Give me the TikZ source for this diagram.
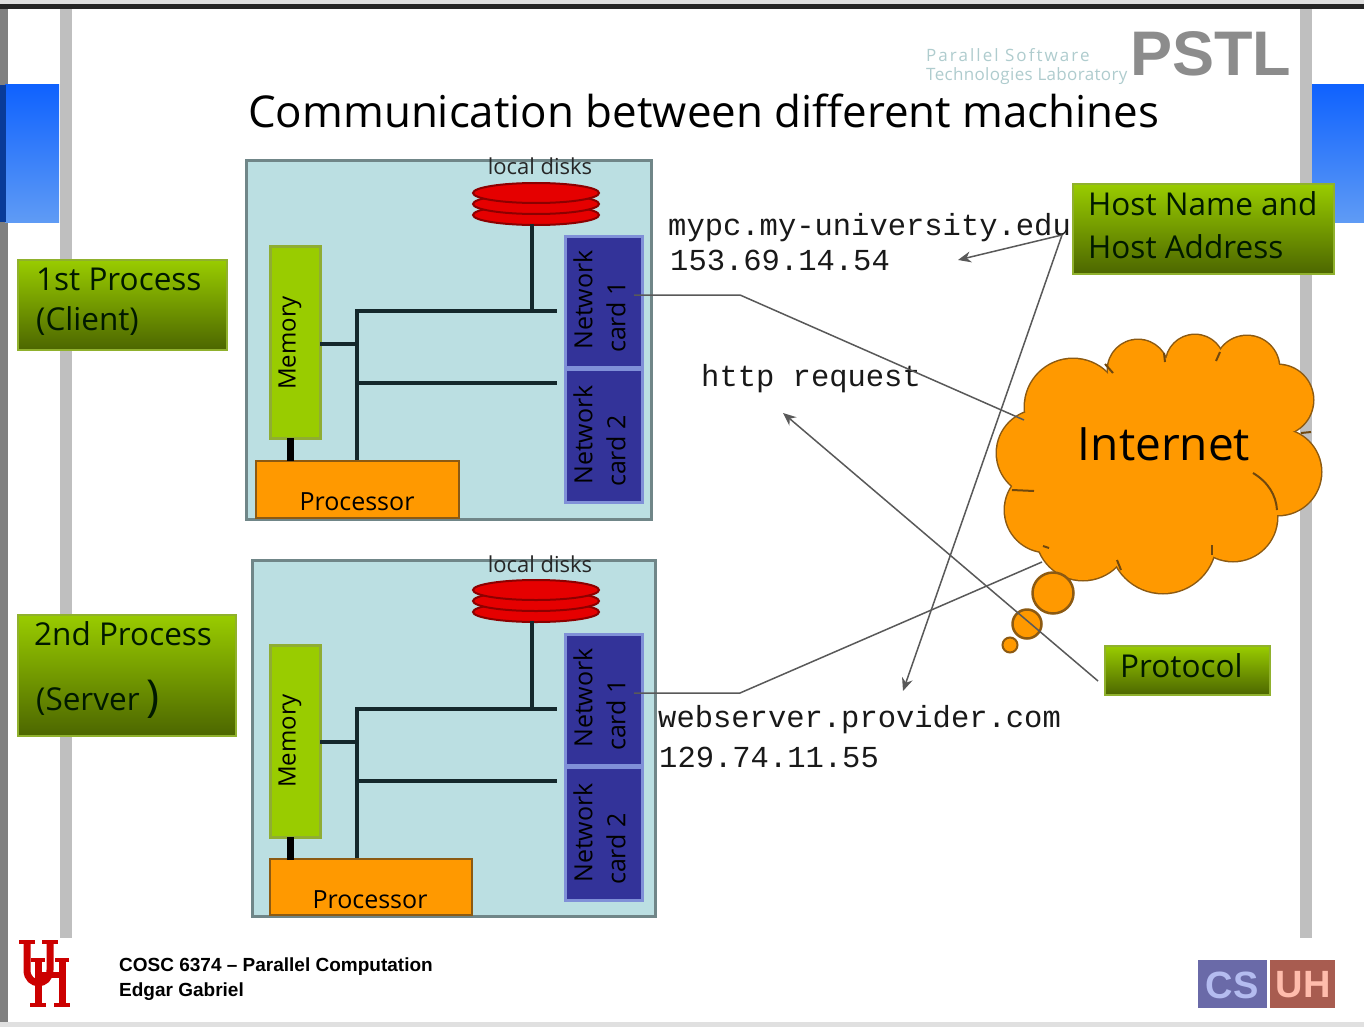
\documentclass[tikz,border=0pt]{standalone}
\usepackage{fontspec}
\setmainfont{Open Sans}
\newfontfamily\monof{Liberation Mono}
\newfontfamily\headf{Liberation Sans}
\definecolor{navy}{HTML}{333399}
\definecolor{navyedge}{HTML}{8090D8}
\definecolor{limeg}{HTML}{99CC00}
\definecolor{darkg}{HTML}{4C6600}
\definecolor{paleb}{HTML}{BBDFE2}
\definecolor{orng}{HTML}{FF9900}
\definecolor{orngedge}{HTML}{8C5A12}
\definecolor{blueA}{HTML}{0F62FE}
\definecolor{blueB}{HTML}{5F9BF5}
\definecolor{busc}{HTML}{14282C}
\definecolor{csbg}{HTML}{6A6AA8}
\definecolor{cstx}{HTML}{B4BCF0}
\definecolor{uhbg}{HTML}{A85C50}
\definecolor{uhtx}{HTML}{FFBCAC}
\usetikzlibrary{arrows.meta}
\tikzset{
 sz/.style={font=\fontsize{#1}{#1}\selectfont},
 gbox/.style={draw=limeg!65!gray,line width=1.5pt,top color=limeg,bottom color=darkg,inner sep=0pt},
 gtext/.style={anchor=west,inner sep=0pt,text=black!90!green,sz=31.5},
 wire/.style={draw=black!65,line width=1.5pt},
 arrowwire/.style={wire,-{Stealth[length=13pt,width=11pt]}},
 bus/.style={draw=busc,line width=4.5pt},
 mono/.style={anchor=west,inner sep=0pt,font=\monof\fontsize{30.5}{30.5}\selectfont,text=black!90},
 machinebox/.style={draw=black!40!paleb,line width=3pt,fill=paleb},
 mem/.style={draw=limeg!60!gray,line width=3pt,fill=limeg,inner sep=0pt},
 proc/.style={draw=orngedge,line width=2.5pt,fill=orng,inner sep=0pt},
 netc/.style={draw=navyedge,line width=3pt,fill=navy,inner sep=0pt},
 platter/.style={draw=red!55!black,line width=2pt,fill=red!90!black},
 smalltxt/.style={inner sep=0pt,sz=25,text=black},
 memtxt/.style={inner sep=0pt,sz=24,text=black},
 proctxt/.style={inner sep=0pt,sz=25,text=black},
 diskl/.style={inner sep=0pt,sz=22,text=black!85},
 tick/.style={draw=orngedge!80!black,line width=2pt},
 puff/.style={draw=orngedge,line width=2.5pt,fill=orng,circle,inner sep=0pt},
 foot/.style={anchor=west,inner sep=0pt,font=\headf\bfseries\fontsize{19}{19}\selectfont},
}
\newcommand{\boxat}[6]{% style, name, x1, y1, x2, y2
  \node[#1,minimum width={#5pt-#3pt},minimum height={#6pt-#4pt},anchor=center] (#2) at ({(#3+#5)/2},{(#4+#6)/2}) {};
}
\begin{document}
\begin{tikzpicture}[x=1pt,y=-1pt]
\useasboundingbox (0,0) rectangle (1364,1027);
\fill[white] (0,0) rectangle (1364,1027);
% slide frame
\fill[black!12] (0,0) rectangle (1364,4);
\fill[black!85] (0,4) rectangle (1364,9);
\fill[black!50] (0,9) rectangle (8,1022);
\fill[black!12] (0,1022) rectangle (1364,1027);
\fill[black!25] (60,9) rectangle (72,938);
\fill[black!25] (1300,9) rectangle (1312,938);
\shade[top color=blueA,bottom color=blueB] (5,85) rectangle (59,222);
\fill[blueA!60!black] (0,85) rectangle (6,222);
\shade[top color=blueA,bottom color=blueB] (1312,85) rectangle (1364,222);
% logo top right
\node[anchor=west,inner sep=0pt,sz=17,text=paleb!80!gray] (pstla) at (926,55) {\addfontfeature{LetterSpace=12}Parallel Software};
\node[anchor=west,inner sep=0pt,sz=17,text=paleb!80!gray] (pstlb) at (926,76) {\addfontfeature{LetterSpace=2}Technologies Laboratory};
\node[anchor=west,inner sep=0pt,font=\headf\bfseries\fontsize{63}{63}\selectfont,text=black!45] (pstl) at (1130,54) {PSTL};
% title
\node[anchor=west,inner sep=0pt,sz=43.9,text=black] (title) at (248,111) {Communication between different machines};
% upper machine
\boxat{machinebox}{ubox}{246}{161}{651}{519}
\boxat{mem}{umem}{270}{246}{320}{438}
\boxat{proc}{uproc}{256}{461}{459}{518}
\boxat{netc}{unetA}{565}{236}{642}{367}
\boxat{netc}{unetB}{565}{369}{642}{502}
\foreach \yy in {215,204,193}{\draw[platter] (536,\yy) ellipse [x radius=63pt,y radius=10pt];}
\coordinate (udisk) at (532,224);
\path (532,311) coordinate (ujA) (357,311) coordinate (ubusT) (357,383) coordinate (ujB) (357,460) coordinate (ubusB) (557,311) coordinate (ubusE1) (557,383) coordinate (ubusE2) (320,344) coordinate (umemE) (357,344) coordinate (ujM);
\draw[bus] (ubusB) -- (ubusT) -- (ubusE1);
\draw[bus] (ujB) -- (ubusE2);
\draw[bus] (umemE) -- (ujM);
\draw[bus] (udisk) -- (ujA);
\draw[bus,line width=7pt,draw=black] (290,438) -- (290,461);
\node[diskl] (udisklab) at (540,166) {local disks};
\node[memtxt,rotate=90] (umemt) at (290,343) {Memory};
\node[smalltxt,rotate=90] (unA1) at (583,300) {Network};
\node[smalltxt,rotate=90] (unA2) at (616,317) {card 1};
\node[smalltxt,rotate=90] (unB1) at (583,435) {Network};
\node[smalltxt,rotate=90] (unB2) at (616,451) {card 2};
\node[proctxt] (uproct) at (357,502) {Processor};
% lower machine
\boxat{machinebox}{lbox}{252}{560}{655}{916}
\boxat{mem}{lmem}{270}{645}{320}{837}
\boxat{proc}{lproc}{270}{859}{472}{915}
\boxat{netc}{lnetA}{565}{634}{642}{765}
\boxat{netc}{lnetB}{565}{767}{642}{900}
\foreach \yy in {612,601,590}{\draw[platter] (536,\yy) ellipse [x radius=63pt,y radius=10pt];}
\coordinate (ldisk) at (532,621);
\path (532,709) coordinate (ljA) (357,709) coordinate (lbusT) (357,781) coordinate (ljB) (357,858) coordinate (lbusB) (557,709) coordinate (lbusE1) (557,781) coordinate (lbusE2) (320,742) coordinate (lmemE) (357,742) coordinate (ljM);
\draw[bus] (lbusB) -- (lbusT) -- (lbusE1);
\draw[bus] (ljB) -- (lbusE2);
\draw[bus] (lmemE) -- (ljM);
\draw[bus] (ldisk) -- (ljA);
\draw[bus,line width=7pt,draw=black] (290,837) -- (290,860);
\node[diskl] (ldisklab) at (540,564) {local disks};
\node[memtxt,rotate=90] (lmemt) at (290,741) {Memory};
\node[smalltxt,rotate=90] (lnA1) at (583,698) {Network};
\node[smalltxt,rotate=90] (lnA2) at (616,715) {card 1};
\node[smalltxt,rotate=90] (lnB1) at (583,833) {Network};
\node[smalltxt,rotate=90] (lnB2) at (616,849) {card 2};
\node[proctxt] (lproct) at (370,900) {Processor};
% green labels
\boxat{gbox}{client}{18}{260}{227}{350}
\node[gtext] (clientA) at (36,279) {1st Process};
\node[gtext] (clientB) at (36,321) {(Client)};
\boxat{gbox}{server}{18}{615}{236}{736}
\node[gtext] (serverA) at (34,634) {2nd Process};
\node[gtext] (serverB) at (36,702) {(Server};
\node[gtext,sz=44] (serverC) at (146,699) {)};
\boxat{gbox}{host}{1073}{184}{1334}{274}
\node[gtext] (hostA) at (1088,204) {Host Name and};
\node[gtext] (hostB) at (1088,247) {Host Address};
\boxat{gbox}{protocol}{1105}{646}{1270}{695}
\node[gtext] (protocolt) at (1120,666) {Protocol};
% cloud
\def\cloudbumps{1073/407/48,1138/370/30,1195/364/29,1247/368/32,1278/400/35,1278/472/43,1233/517/44,1163/540/53,1083/533/47,1047/510/42,1040/453/43}
\foreach \cx/\cy/\cr in \cloudbumps {\draw[orngedge,line width=3pt] (\cx,\cy) circle [radius=\cr pt];}
\foreach \cx/\cy/\cr in \cloudbumps {\fill[orng] (\cx,\cy) circle [radius=\cr pt];}
\fill[orng] (1160,450) circle [radius=92pt];
\fill[orng] (1235,425) circle [radius=45pt];
\draw[tick] (1253,473) .. controls (1268,482) and (1276,495) .. (1277,510);
\draw[tick] (1012,490) -- (1034,491);
\draw[tick] (1105,364) -- (1113,373);
\draw[tick] (1164,353) -- (1165,362);
\draw[tick] (1220,352) -- (1216,361);
\draw[tick] (1301,433) -- (1311,432);
\draw[tick] (1212,545) -- (1212,555);
\draw[tick] (1117,560) -- (1121,570);
\draw[tick] (1043,546) -- (1049,548);
\node[puff,minimum size=41pt] (puffA) at (1053,593) {};
\node[puff,minimum size=29pt] (puffB) at (1027,624) {};
\node[puff,minimum size=15pt,line width=2pt] (puffC) at (1010,645) {};
\node[inner sep=0pt,sz=46,text=black] (internet) at (1164,444) {Internet};
% mono labels
\node[mono] (mypc) at (668,228) {mypc.my-university.edu};
\node[mono] (mypcip) at (670,260) {153.69.14.54};
\node[mono] (http) at (701,379) {http request};
\node[mono] (websrv) at (658,720) {webserver.provider.com};
\node[mono] (websrvip) at (659,757) {129.74.11.55};
% connectors
\path (634,295) coordinate (unetOut) (740,295) coordinate (ubend) (1024,420) coordinate (cloudIn)
      (634,693) coordinate (lnetOut) (740,693) coordinate (lbend) (1042,562) coordinate (cloudOut)
      (1062,235) coordinate (hostTap) (958,260) coordinate (mypcTip) (903,691) coordinate (websrvTip)
      (1098,681) coordinate (protoTap) (783,413) coordinate (httpTip);
\draw[wire] (unetOut) -- (ubend) -- (cloudIn);
\draw[wire] (lnetOut) -- (lbend) -- (cloudOut);
\draw[arrowwire] (hostTap) -- (mypcTip);
\draw[arrowwire] (hostTap) -- (websrvTip);
\draw[arrowwire] (protoTap) -- (httpTip);
% footer
\node[foot] (course) at (119,967) {COSC 6374 – Parallel Computation};
\node[foot] (author) at (119,992) {Edgar Gabriel};
% UH logo
\begin{scope}[draw=red!80!black,line width=7pt]
\draw (27,942) -- (27,970) .. controls (27,987) and (50,987) .. (50,970) -- (50,942);
\draw (38,960) -- (38,1005);
\draw (62,960) -- (62,1005);
\draw[line width=6pt] (38,975) -- (62,975);
\draw[line width=4pt] (19,942) -- (35,942) (42,942) -- (58,942) (30,1005) -- (46,1005) (54,1005) -- (70,1005) (31,960) -- (45,960) (55,960) -- (69,960);
\end{scope}
% CS UH logo
\fill[csbg] (1198,960) rectangle (1267,1008);
\fill[uhbg] (1270,960) rectangle (1335,1008);
\node[inner sep=0pt,font=\headf\bfseries\fontsize{38}{38}\selectfont,text=cstx] (cslogo) at (1232,985) {CS};
\node[inner sep=0pt,font=\headf\bfseries\fontsize{38}{38}\selectfont,text=uhtx] (uhlogo) at (1303,985) {UH};
\end{tikzpicture}
\end{document}
